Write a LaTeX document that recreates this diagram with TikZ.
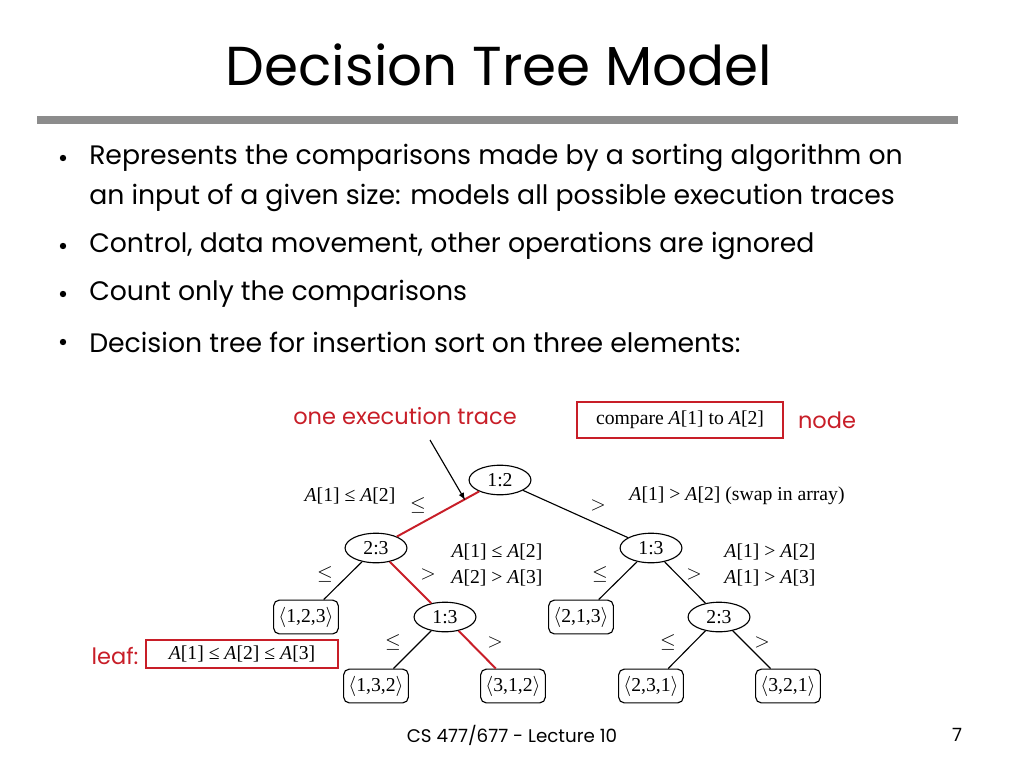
\documentclass[tikz,border=0pt]{standalone}
\usepackage{fontspec}
\setmainfont{Liberation Serif}
\newfontfamily\slide{Poppins}
\usetikzlibrary{shapes.geometric}
\definecolor{nred}{RGB}{200, 30, 40}
\newcommand{\arr}[1]{\textit{A}[#1]}

\begin{document}
\begin{tikzpicture}[x=0.025cm, y=-0.025cm, thick,
    inner/.style={draw, ellipse, minimum width=44pt, minimum height=21pt, inner sep=1pt, font=\fontsize{14}{16}\selectfont},
    leaf/.style={draw, rounded corners=4pt, minimum width=46pt, minimum height=24pt, inner sep=1pt, font=\fontsize{14}{16}\selectfont},
    lbl/.style={font=\fontsize{14}{16}\selectfont},
    bul/.style={anchor=west, font=\slide\fontsize{19}{22}\selectfont}]
    \useasboundingbox (0,0) rectangle (1024,768);
    % title and rule
    \node[font=\slide\fontsize{39}{44}\selectfont] (title) at (499,65) {Decision Tree Model};
    \draw[line width=5pt, black!45] (37,120) -- (958,120);
    % bullets
    \foreach \y/\t in {158/Represents the comparisons made by a sorting algorithm on,
        246/{Control, data movement, other operations are ignored},
        294/Count only the comparisons,
        342/Decision tree for insertion sort on three elements:} {
        \fill (63,\y) circle (3.2);
        \node[bul] at (84,\y) {\t};
    }
    \node[bul] (cont) at (84,198) {an input of a given size: models all possible execution traces};

    % tree
    \node[inner] (n12) at (500,480) {1:2};
    \node[inner] (n23) at (376,548) {2:3};
    \node[inner] (n13) at (651,548) {1:3};
    \node[leaf] (l123) at (306,617) {$\langle$1,2,3$\rangle$};
    \node[inner] (m13) at (445,617) {1:3};
    \node[leaf] (l213) at (581,617) {$\langle$2,1,3$\rangle$};
    \node[inner] (m23) at (719,617) {2:3};
    \node[leaf] (l132) at (376,686) {$\langle$1,3,2$\rangle$};
    \node[leaf] (l312) at (513,686) {$\langle$3,1,2$\rangle$};
    \node[leaf] (l231) at (651,686) {$\langle$2,3,1$\rangle$};
    \node[leaf] (l321) at (788,686) {$\langle$3,2,1$\rangle$};

    \draw[nred, line width=1.4pt] (n12) -- (n23);
    \draw (n12) -- (n13);
    \draw (n23) -- (l123);
    \draw[nred, line width=1.4pt] (n23) -- (m13);
    \draw (n13) -- (l213);
    \draw (n13) -- (m23);
    \draw (m13) -- (l132);
    \draw[nred, line width=1.4pt] (m13) -- (l312);
    \draw (m23) -- (l231);
    \draw (m23) -- (l321);

    % edge labels
    \node[lbl] (e1) at (418,505) {$\le$};
    \node[lbl] (e2) at (598,505) {$>$};
    \node[lbl] (t1) at (350,496) {\arr{1} ≤ \arr{2}};
    \node[lbl] (t2) at (737,496) {\arr{1} > \arr{2} (swap in array)};
    \node[lbl] (e3) at (325,574) {$\le$};
    \node[lbl] (e4) at (428,574) {$>$};
    \node[lbl] (t3) at (497,552) {\arr{1} ≤ \arr{2}};
    \node[lbl] (t4) at (497,578) {\arr{2} > \arr{3}};
    \node[lbl] (e5) at (600,574) {$\le$};
    \node[lbl] (e6) at (694,574) {$>$};
    \node[lbl] (t5) at (770,552) {\arr{1} > \arr{2}};
    \node[lbl] (t6) at (770,578) {\arr{1} > \arr{3}};
    \node[lbl] (e7) at (393,642) {$\le$};
    \node[lbl] (e8) at (495,642) {$>$};
    \node[lbl] (e9) at (668,642) {$\le$};
    \node[lbl] (e10) at (762,642) {$>$};

    % annotations
    \node[draw=nred, line width=1.4pt, minimum width=147pt, minimum height=26pt, lbl] (cmp) at (680,420) {compare \arr{1} to \arr{2}};
    \node[font=\slide\fontsize{16}{18}\selectfont, nred] (nd) at (827,420) {node};
    \node[font=\slide\fontsize{16}{18}\selectfont, nred] (trace) at (405,416) {one execution trace};
    \coordinate (hit) at (465,500);
    \draw[->, >=latex] (430,440) -- (hit);
    \node[font=\slide\fontsize{16}{18}\selectfont, nred] (lf) at (115,656) {leaf:};
    \node[draw=nred, line width=1.4pt, minimum width=136pt, minimum height=20pt, lbl] (lbox) at (242,654) {\arr{1} ≤ \arr{2} ≤ \arr{3}};

    % footer
    \node[font=\slide\fontsize{13}{15}\selectfont] (foot) at (512,735) {CS 477/677 - Lecture 10};
    \node[font=\slide\fontsize{13}{15}\selectfont] (pg) at (957,735) {7};
\end{tikzpicture}
\end{document}
